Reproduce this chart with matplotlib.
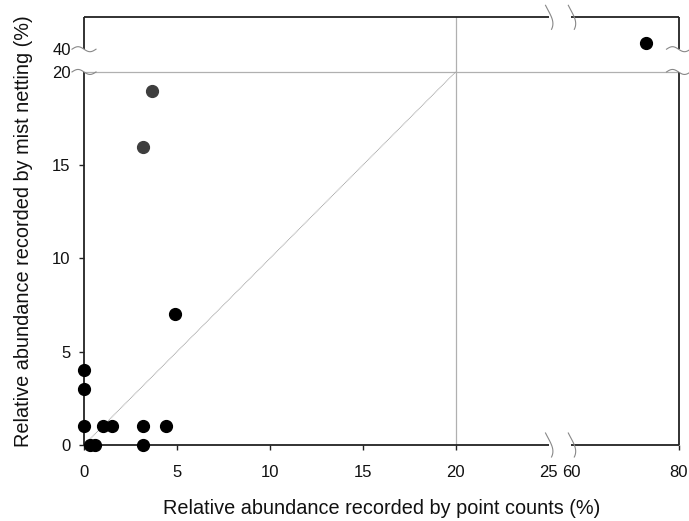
import numpy as np
import matplotlib
matplotlib.use("Agg")
import matplotlib.pyplot as plt

plt.rcParams['font.family'] = ['Liberation Sans', 'DejaVu Sans']

# data (point counts %, mist netting %)
pc_black = [0, 0, 0, 1.0, 1.5, 3.2, 4.4, 4.9, 3.2, 0.3, 0.6, 74]
mn_black = [4, 3, 1, 1, 1, 1, 1, 7, 0, 0, 0, 42]
pc_gray = [3.65, 3.2]
mn_gray = [19, 16]

xticks = [0, 5, 10, 15, 20, 25, 60, 80]
yticks = [0, 5, 10, 15, 20, 40]

# piecewise (broken) scales
xd = [-100, 0, 25, 60, 80, 200]
xv = [-100, 0, 25, 26.226, 31.995, 31.995 + 120 * (5.75 / 20)]
yd = [-100, 0, 20, 40, 50, 200]
yv = [-100, 0, 20, 21.22, 22.93, 22.93 + 150 * 0.171]

def fx(v): return np.interp(v, xd, xv)
def ix(v): return np.interp(v, xv, xd)
def fy(v): return np.interp(v, yd, yv)
def iy(v): return np.interp(v, yv, yd)

fig = plt.figure(figsize=(6.89, 5.21), dpi=100)
ax = fig.add_axes([84/689, 1-445/521, (678.5-84)/689, (445-17.3)/521])
ax.set_xscale('function', functions=(fx, ix))
ax.set_yscale('function', functions=(fy, iy))
ax.set_xlim(0, 80)
ax.set_ylim(0, 50)

for s in ax.spines.values():
    s.set_visible(False)

# reference lines
ax.plot([0, 80], [20, 20], color='#b0b0b0', lw=0.9, zorder=1)
ax.plot([20, 20], [0, 50], color='#b0b0b0', lw=0.9, zorder=1)
ax.plot([0, 20], [0, 20], color='#a0a0a0', lw=0.7, ls=(0, (1, 0.6)), zorder=1)

# axis frame segments
fc = '#222222'
lw = 1.3
for seg in ([0, 25], [60, 80]):
    ax.plot(seg, [0, 0], color=fc, lw=lw, clip_on=False, zorder=3, solid_capstyle='butt')
    ax.plot(seg, [50, 50], color=fc, lw=lw, clip_on=False, zorder=3, solid_capstyle='butt')
for seg in ([0, 20], [40, 50]):
    ax.plot([0, 0], seg, color=fc, lw=lw, clip_on=False, zorder=3, solid_capstyle='butt')
    ax.plot([80, 80], seg, color=fc, lw=lw, clip_on=False, zorder=3, solid_capstyle='butt')

# break marks (drawn in pixel offsets)
fig.canvas.draw()
t = np.linspace(-1, 1, 40)

def draw_xbreak(xval, yval):
    X, Y = ax.transData.transform((xval, yval))
    xs = X - 3.0 * np.sin(t * np.pi / 2) + 3.0 * (1 - t**2)
    ys = Y + 12 * t
    fig.add_artist(plt.Line2D(xs / fig.bbox.width, ys / fig.bbox.height,
                              color='#888888', lw=0.8, zorder=5))

def draw_ybreak(xval, yval):
    X, Y = ax.transData.transform((xval, yval))
    xs = X + 12 * t
    ys = Y - 2.5 * np.sin(t * np.pi)
    fig.add_artist(plt.Line2D(xs / fig.bbox.width, ys / fig.bbox.height,
                              color='#888888', lw=0.8, zorder=5))

for xb in (25, 60):
    draw_xbreak(xb, 0)
    draw_xbreak(xb, 50)
for yb in (20, 40):
    draw_ybreak(0, yb)
    draw_ybreak(80, yb)

# data points
ax.plot(pc_black, mn_black, 'o', color='black', ms=8.5, clip_on=False, zorder=4)
ax.plot(pc_gray, mn_gray, 'o', color='#3e3e3e', ms=8.5, clip_on=False, zorder=4)

ax.set_xticks(xticks)
ax.set_yticks(yticks)
ax.set_xticklabels([str(v) for v in xticks])
ax.set_yticklabels([str(v) for v in yticks])
ax.tick_params(axis='both', direction='out', length=3.6, width=1.0, color=fc,
               labelsize=12, labelcolor='#111111')
ax.tick_params(axis='x', pad=10.5)
ax.tick_params(axis='y', pad=6)
for tk, v in zip(ax.xaxis.get_major_ticks(), xticks):
    if v in (25, 60):
        tk.tick1line.set_visible(False)
for tk, v in zip(ax.yaxis.get_major_ticks(), yticks):
    if v in (20, 40):
        tk.tick1line.set_visible(False)

ax.set_xlabel('Relative abundance recorded by point counts (%)', fontsize=14.3, labelpad=14, color='#111111')
ax.set_ylabel('Relative abundance recorded by mist netting (%)', fontsize=14.3, labelpad=14, color='#111111')

fig.savefig('out.png', dpi=100)
